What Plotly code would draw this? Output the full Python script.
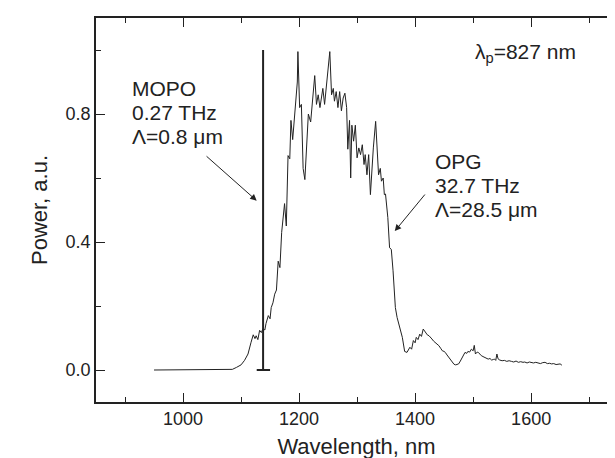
import plotly.graph_objects as go

# OPG spectrum
wavelength = [
    950, 1000, 1050, 1085, 1092, 1100, 1106, 1112, 1117, 1121,
    1124, 1126, 1129, 1132, 1135, 1138, 1141, 1143, 1147, 1150,
    1152, 1155, 1158, 1161, 1164, 1167, 1170, 1172, 1175, 1178,
    1181, 1184, 1186, 1189, 1192, 1195, 1197, 1198, 1201, 1204,
    1207, 1210, 1213, 1216, 1220, 1224, 1227, 1230, 1233, 1236,
    1238, 1241, 1244, 1247, 1250, 1253, 1256, 1259, 1261, 1264,
    1267, 1270, 1273, 1276, 1279, 1282, 1284, 1287, 1289, 1291,
    1294, 1297, 1300, 1303, 1306, 1309, 1312, 1314, 1317, 1320,
    1323, 1325, 1328, 1332, 1334, 1337, 1340, 1342, 1345, 1347,
    1349, 1351, 1353, 1356, 1359, 1362, 1366, 1369, 1374, 1378,
    1382, 1386, 1391, 1394, 1397, 1400, 1402, 1405, 1408, 1411,
    1414, 1418, 1421, 1424, 1427, 1429, 1432, 1435, 1438, 1441,
    1444, 1447, 1450, 1452, 1455, 1458, 1461, 1464, 1467, 1470,
    1475, 1478, 1481, 1484, 1486, 1489, 1491, 1494, 1497, 1500,
    1502, 1504, 1507, 1509, 1512, 1514, 1517, 1520, 1523, 1526,
    1529, 1532, 1535, 1537, 1539, 1541, 1543, 1546, 1550, 1554,
    1558, 1562, 1566, 1570, 1574, 1578, 1582, 1586, 1589, 1593,
    1597, 1600, 1604, 1608, 1612, 1616, 1620, 1624, 1628, 1632,
    1635, 1639, 1643, 1647, 1650, 1653,
]
power = [
    0, 0, 0, 0.002, 0.008, 0.016, 0.03, 0.05, 0.085, 0.11,
    0.098, 0.107, 0.095, 0.124, 0.117, 0.13, 0.125, 0.145, 0.17, 0.16,
    0.195, 0.21, 0.237, 0.25, 0.34, 0.32, 0.43, 0.46, 0.52, 0.45,
    0.67, 0.66, 0.78, 0.72, 0.79, 0.86, 0.90, 0.995, 0.82, 0.83,
    0.63, 0.595, 0.715, 0.80, 0.775, 0.86, 0.92, 0.83, 0.86, 0.82,
    0.85, 0.88, 0.83, 0.89, 0.93, 0.995, 0.86, 0.88, 0.84, 0.87,
    0.82, 0.87, 0.81, 0.85, 0.865, 0.82, 0.69, 0.78, 0.60, 0.765,
    0.715, 0.765, 0.663, 0.694, 0.673, 0.704, 0.642, 0.673, 0.61, 0.673,
    0.548, 0.62, 0.694, 0.777, 0.694, 0.61, 0.63, 0.59, 0.60, 0.548,
    0.55, 0.517, 0.476, 0.382, 0.377, 0.31, 0.195, 0.164, 0.128, 0.102,
    0.058, 0.055, 0.071, 0.065, 0.092, 0.085, 0.102, 0.095, 0.112, 0.105,
    0.128, 0.117, 0.11, 0.107, 0.099, 0.097, 0.09, 0.086, 0.08, 0.076,
    0.068, 0.06, 0.058, 0.055, 0.047, 0.04, 0.032, 0.024, 0.018, 0.016,
    0.019, 0.028, 0.04, 0.05, 0.055, 0.052, 0.058, 0.056, 0.065, 0.06,
    0.077, 0.05, 0.056, 0.055, 0.048, 0.045, 0.042, 0.04, 0.037, 0.034,
    0.036, 0.031, 0.033, 0.034, 0.03, 0.05, 0.035, 0.031, 0.029, 0.030,
    0.027, 0.029, 0.027, 0.025, 0.028, 0.024, 0.026, 0.024, 0.025, 0.022,
    0.025, 0.024, 0.022, 0.024, 0.022, 0.02, 0.023, 0.024, 0.02, 0.021,
    0.019, 0.02, 0.017, 0.017, 0.019, 0.015,
]

# MOPO narrow line
mopo_x = [1127, 1150, None, 1138, 1138]
mopo_y = [0, 0, None, 0, 1.0]

mopo_label = ["MOPO", "0.27 THz", "Λ=0.8 μm"]
opg_label = ["OPG", "32.7 THz", "Λ=28.5 μm"]

ink = "#222222"
font = "Liberation Sans, Arial, sans-serif"

fig = go.Figure()
fig.add_trace(go.Scatter(x=wavelength, y=power, mode="lines",
                         line=dict(color=ink, width=1), showlegend=False))
fig.add_trace(go.Scatter(x=mopo_x, y=mopo_y, mode="lines",
                         line=dict(color=ink, width=2), showlegend=False))

axis_style = dict(showline=True, linecolor=ink, linewidth=1.5, mirror="ticks",
                  ticks="inside", ticklen=9, tickwidth=1.2, tickcolor=ink,
                  showgrid=False, zeroline=False,
                  tickfont=dict(family=font, size=18, color=ink))

fig.update_xaxes(range=[850, 1748], tickvals=[1000, 1200, 1400, 1600],
                 minor=dict(tickvals=[900, 1100, 1300, 1500, 1700], ticks="inside",
                            ticklen=5, tickcolor=ink, tickwidth=1.2),
                 title=dict(text="Wavelength, nm", font=dict(family=font, size=22, color=ink),
                            standoff=10),
                 **axis_style)
fig.update_yaxes(range=[-0.1, 1.1], tickvals=[0, 0.4, 0.8], tickformat=".1f",
                 minor=dict(tickvals=[0.2, 0.6, 1.0], ticks="inside",
                            ticklen=5, tickcolor=ink, tickwidth=1.2),
                 title=dict(text="Power, a.u.", font=dict(family=font, size=22, color=ink),
                            standoff=12),
                 **axis_style)

txt = dict(family=font, size=21, color=ink)
line_step = 0.075
for i, s in enumerate(mopo_label):
    fig.add_annotation(x=909, y=0.88 - i * line_step, xref="x", yref="y",
                       xanchor="left", yanchor="middle", text=s, showarrow=False, font=txt)
for i, s in enumerate(opg_label):
    fig.add_annotation(x=1431, y=0.653 - i * line_step, xref="x", yref="y",
                       xanchor="left", yanchor="middle", text=s, showarrow=False, font=txt)

fig.add_annotation(x=1127, y=0.529, ax=1038, ay=0.672, xref="x", yref="y",
                   axref="x", ayref="y", text="", showarrow=True, arrowhead=2,
                   arrowsize=1.3, arrowwidth=1, arrowcolor=ink)
fig.add_annotation(x=1365, y=0.434, ax=1419, ay=0.553, xref="x", yref="y",
                   axref="x", ayref="y", text="", showarrow=True, arrowhead=2,
                   arrowsize=1.3, arrowwidth=1, arrowcolor=ink)
fig.add_annotation(x=1500, y=0.99, xref="x", yref="y", xanchor="left", yanchor="middle",
                   text="λ<sub>p</sub>=827 nm", showarrow=False, font=txt)

fig.update_layout(width=615, height=458, margin=dict(l=88, r=4, t=10, b=64),
                  plot_bgcolor="white", paper_bgcolor="white")
fig.write_html("out.html")
